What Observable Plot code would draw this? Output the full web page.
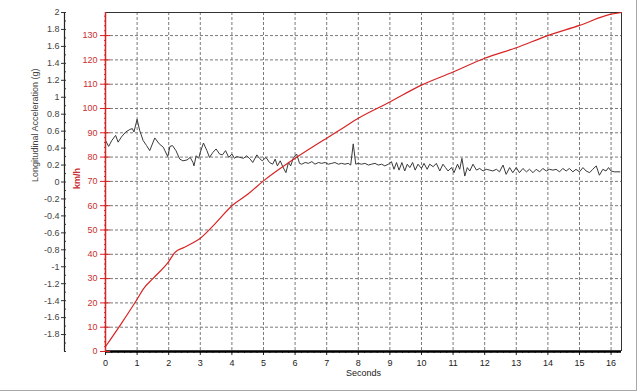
<!DOCTYPE html>
<html><head><meta charset="utf-8">
<script src="https://cdn.jsdelivr.net/npm/d3@7"></script>
<script src="https://cdn.jsdelivr.net/npm/@observablehq/plot@0.6"></script>
<style>
html,body{margin:0;padding:0;background:#fff;}
#wrap{position:relative;width:640px;height:392px;overflow:hidden;}
#chart svg{display:block;}
#edge{position:absolute;left:0;top:0;width:636px;height:390px;border-right:1px solid #a8a8a8;border-bottom:1px solid #a8a8a8;pointer-events:none;}
</style></head><body><div id="wrap"><div id="chart"></div><div id="edge"></div></div>
<script>
// Speed (km/h) vs time (s)
const speedTime = [0, 0.5, 1, 1.2, 1.5, 2, 2.2, 2.5, 3, 3.5, 4, 4.5, 5, 6, 7, 7.4, 8, 9, 10, 11, 12, 13, 14, 15, 16, 16.33];
const speedKmh  = [2, 11.5, 21.5, 25.8, 30, 37, 40.8, 42.9, 46.6, 53, 60, 64.7, 70.2, 79.5, 87.8, 91, 96, 102.7, 109.6, 115, 120.7, 125, 130, 134.2, 138.8, 139.5];

// Longitudinal acceleration (g) vs time (s)
const accelTime = [
  0, 0.1, 0.2, 0.32, 0.4, 0.5, 0.64, 0.77, 0.85, 0.9,
  1.0, 1.08, 1.19, 1.3, 1.4, 1.56, 1.7, 1.83, 1.88, 1.97,
  2.04, 2.12, 2.23, 2.35, 2.45, 2.58, 2.68, 2.77, 2.8, 2.87,
  2.95, 3.0, 3.1, 3.21, 3.29, 3.4, 3.5, 3.61, 3.7, 3.8,
  3.9, 4.0, 4.08, 4.16, 4.26, 4.37, 4.47, 4.58, 4.66, 4.79,
  4.87, 4.96, 5.08, 5.19, 5.29, 5.37, 5.44, 5.53, 5.61, 5.71,
  5.79, 5.86, 5.95, 6.05, 6.14, 6.21, 6.32, 6.42, 6.53, 6.63,
  6.74, 6.84, 6.95, 7.05, 7.16, 7.26, 7.37, 7.47, 7.58, 7.68,
  7.76, 7.84, 7.92, 8.0, 8.1, 8.21, 8.32, 8.42, 8.53, 8.63,
  8.74, 8.84, 8.95, 9.05, 9.13, 9.21, 9.29, 9.38, 9.47, 9.55,
  9.63, 9.72, 9.8, 9.89, 10.0, 10.08, 10.18, 10.26, 10.37, 10.47,
  10.58, 10.68, 10.76, 10.84, 10.95, 11.03, 11.14, 11.21, 11.28, 11.37,
  11.45, 11.53, 11.63, 11.74, 11.84, 11.95, 12.05, 12.16, 12.26, 12.37,
  12.47, 12.58, 12.68, 12.79, 12.89, 13.0, 13.1, 13.21, 13.32, 13.42,
  13.53, 13.63, 13.74, 13.84, 13.95, 14.05, 14.16, 14.26, 14.37, 14.47,
  14.58, 14.68, 14.79, 14.89, 15.0, 15.11, 15.21, 15.32, 15.42, 15.53,
  15.63, 15.74, 15.84, 15.92, 16.0, 16.1, 16.28
];
const accelG = [
  0.49, 0.42, 0.49, 0.55, 0.47, 0.53, 0.59, 0.62, 0.63, 0.59,
  0.74, 0.61, 0.49, 0.43, 0.37, 0.52, 0.45, 0.41, 0.37, 0.30,
  0.42, 0.43, 0.37, 0.27, 0.25, 0.26, 0.29, 0.23, 0.19, 0.31,
  0.28, 0.35, 0.46, 0.37, 0.29, 0.35, 0.39, 0.33, 0.32, 0.37,
  0.29, 0.33, 0.28, 0.30, 0.29, 0.28, 0.31, 0.27, 0.23, 0.32,
  0.28, 0.25, 0.29, 0.23, 0.21, 0.27, 0.19, 0.25, 0.18, 0.11,
  0.23, 0.19, 0.29, 0.33, 0.22, 0.21, 0.23, 0.22, 0.24, 0.21,
  0.23, 0.22, 0.23, 0.21, 0.22, 0.23, 0.21, 0.22, 0.21, 0.22,
  0.20, 0.45, 0.21, 0.22, 0.21, 0.22, 0.20, 0.21, 0.22, 0.20,
  0.21, 0.19, 0.21, 0.24, 0.15, 0.23, 0.14, 0.23, 0.13, 0.21,
  0.17, 0.23, 0.14, 0.21, 0.16, 0.22, 0.15, 0.21, 0.18, 0.22,
  0.13, 0.21, 0.17, 0.13, 0.17, 0.11, 0.21, 0.15, 0.28, 0.07,
  0.17, 0.13, 0.21, 0.14, 0.16, 0.13, 0.15, 0.14, 0.13, 0.15,
  0.12, 0.20, 0.09, 0.17, 0.11, 0.17, 0.11, 0.16, 0.12, 0.15,
  0.11, 0.15, 0.12, 0.16, 0.13, 0.15, 0.14, 0.15, 0.12, 0.16,
  0.13, 0.16, 0.12, 0.15, 0.12, 0.17, 0.13, 0.11, 0.15, 0.19,
  0.08, 0.15, 0.13, 0.17, 0.13, 0.12, 0.12
];

// Axis ticks
const secondTicks = [0,1,2,3,4,5,6,7,8,9,10,11,12,13,14,15,16];
const kmhTicks = [0,10,20,30,40,50,60,70,80,90,100,110,120,130];
const gTicks = [-1.8,-1.6,-1.4,-1.2,-1,-0.8,-0.6,-0.4,-0.2,0,0.2,0.4,0.6,0.8,1,1.2,1.4,1.6,1.8,2];

const X_MAX = 16.33, KMH_MAX = 139.5, G_MIN = -2, G_MAX = 2;
const RED = "#d82424", RED_TXT = "#c83030", GRID = "#7a7a7a";
const gToKmh = g => (g - G_MIN) * KMH_MAX / (G_MAX - G_MIN);
const kmhToG = k => k * (G_MAX - G_MIN) / KMH_MAX + G_MIN;

const speed = speedTime.map((t, i) => ({t, v: speedKmh[i]}));
const accel = accelTime.map((t, i) => ({t, g: accelG[i]}));

const secMinor = d3.range(0, 16.3, 0.2);
const kmhMinor = d3.range(0, 139, 2);
const gMinor = d3.range(-2, 2.001, 0.1).map(gToKmh);

const chart = Plot.plot({
  width: 640, height: 392,
  marginTop: 12, marginRight: 19, marginBottom: 41, marginLeft: 105,
  style: {fontFamily: "'Liberation Sans', Arial, sans-serif", fontSize: "9px", background: "#fff"},
  x: {domain: [0, X_MAX], axis: null, label: null},
  y: {domain: [0, KMH_MAX], axis: null, label: null},
  marks: [
    Plot.gridX(secondTicks.filter(d => d > 0), {stroke: GRID, strokeOpacity: 1, strokeDasharray: "3,2"}),
    Plot.gridY(kmhTicks.filter(d => d > 0), {stroke: GRID, strokeOpacity: 1, strokeDasharray: "3,2"}),
    Plot.ruleY([KMH_MAX], {stroke: "#333"}),
    Plot.ruleX([X_MAX], {stroke: "#333"}),
    // x axis
    Plot.axisX(secMinor, {anchor: "bottom", label: null, tickSize: 2, tickFormat: () => "", stroke: "#333"}),
    Plot.axisX(secondTicks, {anchor: "bottom", label: null, tickSize: 4, tickPadding: 4, stroke: "#222", fill: "#222", tickFormat: d => String(d)}),
    Plot.ruleY([0], {stroke: "#000", strokeWidth: 2.5}),
    // data
    Plot.line(accel, {x: "t", y: d => gToKmh(d.g), stroke: "#3a3a3a", strokeWidth: 1}),
    Plot.line(speed, {x: "t", y: "v", stroke: RED, strokeWidth: 1.2, curve: "monotone-x"}),
    // red km/h axis
    Plot.axisY(kmhMinor, {anchor: "left", label: null, tickSize: 2, dx: 1, tickFormat: () => "", stroke: RED}),
    Plot.axisY(kmhTicks, {anchor: "left", label: null, tickSize: 5, tickPadding: 3, stroke: RED, fill: RED_TXT, tickFormat: d => String(d)}),
    Plot.axisY(kmhTicks, {anchor: "left", label: null, tickSize: 5, dx: 5, tickFormat: () => "", stroke: RED}),
    Plot.ruleX([0], {stroke: RED, strokeWidth: 1.5}),
    // black g axis
    Plot.ruleX([0], {dx: -41, stroke: "#222", strokeWidth: 1.2}),
    Plot.axisY(gMinor, {anchor: "left", label: null, tickSize: 2, dx: -39, tickFormat: () => "", stroke: "#333"}),
    Plot.axisY(gTicks.map(gToKmh), {anchor: "left", label: null, dx: -41, tickSize: 3, tickPadding: 2, stroke: "#333", fill: "#444",
      tickFormat: d => String(+kmhToG(d).toFixed(1))}),
    // titles
    Plot.text(["Seconds"], {frameAnchor: "bottom", dy: 24, fill: "#222", text: d => d}),
    Plot.text(["Longitudinal Acceleration (g)"], {frameAnchor: "left", dx: -70, rotate: -90, fill: "#444", text: d => d}),
    Plot.text(["km/h"], {frameAnchor: "left", dx: -28, dy: 7, rotate: -90, fill: RED_TXT, fontWeight: "bold", text: d => d})
  ]
});
document.getElementById("chart").appendChild(chart);
</script></body></html>
